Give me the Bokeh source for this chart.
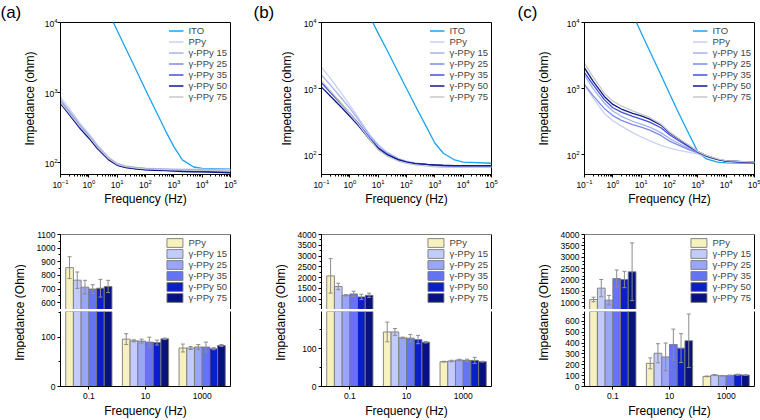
import math
from bokeh.plotting import figure
from bokeh.models import (Range1d, FactorRange, FixedTicker, SingleIntervalTicker, Label,
                          LinearAxis, ColumnDataSource, Span, Spacer)
from bokeh.transform import dodge
from bokeh.layouts import row, column
from bokeh.embed import file_html
from bokeh.resources import INLINE

FONT = "Liberation Sans"

# ---------------- data: impedance spectra (top row) ----------------
freq = [0.1, 0.2, 0.5, 1, 2, 5, 10, 20, 50, 100, 200, 500, 1000, 2000, 5000, 10000, 100000]

a_ito = [380000, 210000, 97000, 54000, 30000, 13900, 7700, 4300, 1990, 1100, 617, 290, 170, 110, 87, 83, 81]
a_ppy = [860, 600, 360, 260, 180, 120, 98, 90, 86, 84, 83, 82, 82, 81, 81, 81, 80]
a_g15 = [790, 555, 340, 248, 174, 117, 96, 89, 85, 83, 82, 81, 80, 80, 79, 79, 78]
a_g25 = [750, 525, 328, 240, 169, 115, 95, 88, 84, 82, 81, 80, 79, 79, 78, 78, 77]
a_g35 = [715, 500, 313, 230, 163, 112, 93, 86, 82, 80, 79, 78, 77, 76, 75, 75, 73]
a_g50 = [700, 490, 305, 224, 159, 110, 92, 85, 81, 79, 78, 77, 76, 75, 74, 74, 72]
a_g75 = [730, 515, 322, 238, 168, 115, 95, 88, 84, 82, 81, 80, 79, 79, 78, 78, 77]

b_ito = [330000, 185000, 86000, 48000, 27000, 12400, 6900, 3900, 1800, 1000, 560, 265, 150, 105, 83, 77, 74]
b_ppy = [2100, 1450, 850, 560, 360, 200, 140, 110, 88, 80, 75, 71, 68, 67, 66, 66, 66]
b_g15 = [1600, 1150, 720, 500, 340, 195, 140, 108, 87, 79, 74, 71, 68, 67, 66, 66, 66]
b_g25 = [1200, 880, 580, 420, 300, 180, 128, 103, 84, 77, 73, 71, 69, 68, 67, 67, 67]
b_g35 = [1250, 900, 590, 420, 295, 178, 127, 102, 84, 77, 73, 71, 69, 68, 67, 67, 67]
b_g50 = [1050, 780, 520, 380, 275, 170, 124, 100, 84, 77, 73, 71, 70, 69, 68, 68, 68]
b_g75 = [1300, 940, 600, 420, 290, 172, 118, 96, 80, 74, 70, 67, 65, 64, 64, 64, 64]

c_ito = [490000, 260000, 110000, 58000, 31000, 13300, 7000, 3700, 1600, 840, 445, 200, 110, 86, 77, 75, 74]
c_ppy = [1150, 720, 420, 325, 270, 215, 185, 162, 138, 125, 117, 108, 102, 92, 84, 80, 77]
c_g15 = [1600, 1000, 600, 457, 380, 320, 290, 260, 215, 175, 150, 122, 108, 95, 85, 80, 76]
c_g25 = [1150, 780, 500, 390, 330, 285, 260, 235, 195, 160, 140, 118, 106, 94, 84, 80, 76]
c_g35 = [1750, 1150, 680, 513, 440, 380, 345, 310, 255, 200, 165, 130, 110, 96, 85, 80, 76]
c_g50 = [2050, 1300, 760, 575, 490, 420, 385, 345, 280, 215, 175, 135, 111, 96, 85, 80, 76]
c_g75 = [2400, 1500, 850, 645, 545, 460, 410, 365, 290, 220, 178, 137, 112, 97, 86, 81, 77]

line_names = ["ITO", "PPy", "γ-PPy 15", "γ-PPy 25", "γ-PPy 35", "γ-PPy 50", "γ-PPy 75"]
line_colors = ["#1aa3ef", "#c9d0f5", "#a6b2f0", "#7b8be8", "#4152d9", "#0f1a8a", "#c8c8c8"]

x_major = [0.1, 1, 10, 100, 1000, 10000, 100000]
y_major = [100, 1000, 10000]

# ---------------- data: bar charts (bottom row) ----------------
freq_cats = ["0.1", "10", "1000"]
bar_names = ["PPy", "γ-PPy 15", "γ-PPy 25", "γ-PPy 35", "γ-PPy 50", "γ-PPy 75"]
bar_colors = ["#f6f1bf", "#c3cbfb", "#98a5f8", "#6474f5", "#0b1fc8", "#07127e"]

a_bar_ppy = [857, 96, 78];    a_err_ppy = [80, 11, 8]
a_bar_g15 = [765, 92.6, 78];  a_err_g15 = [60, 2, 3]
a_bar_g25 = [714, 92, 80];    a_err_g25 = [50, 4, 5]
a_bar_g35 = [700, 90, 80];    a_err_g35 = [32, 10, 10]
a_bar_g50 = [706, 89, 76.6];  a_err_g50 = [65, 5, 2]
a_bar_g75 = [719, 96.6, 83];  a_err_g75 = [45, 1.5, 2]

b_bar_ppy = [2080, 144, 65.5]; b_err_ppy = [800, 26, 1]
b_bar_g15 = [1590, 144, 67.3]; b_err_g15 = [150, 9, 2]
b_bar_g25 = [1180, 128.5, 70]; b_err_g25 = [30, 2, 2]
b_bar_g35 = [1240, 127.6, 69]; b_err_g35 = [130, 10, 3]
b_bar_g50 = [1105, 124, 69];   b_err_g50 = [120, 11, 8]
b_bar_g75 = [1180, 117, 65.5]; b_err_g75 = [100, 2, 1]

c_bar_ppy = [1140, 213, 93];  c_err_ppy = [100, 50, 3]
c_bar_g15 = [1640, 306, 105]; c_err_g15 = [380, 88, 5]
c_bar_g25 = [1110, 272, 99];  c_err_g25 = [210, 128, 3]
c_bar_g35 = [2060, 386, 102]; c_err_g35 = [380, 142, 3]
c_bar_g50 = [2020, 353, 108]; c_err_g50 = [360, 133, 5]
c_bar_g75 = [2360, 421, 105]; c_err_g75 = [1270, 246, 3]

TOP_H = 210
UP_H = 99
GAP = 2
LOW_H = 109
BW = 0.136


def style_axis(ax, size="8.5px", label_standoff=2, title_standoff=2):
    ax.major_label_text_font = FONT
    ax.major_label_text_font_size = size
    ax.major_label_text_color = "black"
    ax.axis_label_text_font = FONT
    ax.axis_label_text_font_size = "12px"
    ax.axis_label_text_font_style = "normal"
    ax.axis_label_text_color = "black"
    ax.major_tick_in = 0
    ax.major_tick_out = 3
    ax.minor_tick_in = 0
    ax.minor_tick_out = 2
    ax.major_label_standoff = label_standoff
    ax.axis_label_standoff = title_standoff
    ax.axis_line_color = "black"
    ax.major_tick_line_color = "black"
    ax.minor_tick_line_color = "black"


def top_panel(curves, ymin, width, left, right, letter, letter_dx, ylab_std, ytick_std):
    p = figure(width=width, height=TOP_H, x_axis_type="log", y_axis_type="log",
               x_range=Range1d(0.1, 1e5), y_range=Range1d(ymin, 1e4),
               output_backend="svg", toolbar_location=None,
               min_border_left=left, min_border_right=right,
               min_border_top=21, min_border_bottom=36)
    p.title.text = letter
    p.title.text_font = FONT
    p.title.text_font_size = "17px"
    p.title.text_font_style = "normal"
    p.title.text_color = "black"
    p.title.align = "left"
    p.title.offset = letter_dx
    p.title.standoff = 1
    p.outline_line_color = "black"
    p.outline_line_alpha = 1
    p.grid.visible = False
    for name, vals, col in zip(line_names, curves, line_colors):
        p.line(freq, vals, line_color=col, line_width=1.3, legend_label=name)
    x_minor = [m * d for d in x_major[:-1] for m in range(2, 10)]
    p.xaxis.ticker = FixedTicker(ticks=x_major, minor_ticks=x_minor)
    p.yaxis.ticker = FixedTicker(ticks=y_major)
    p.xaxis.axis_label = "Frequency (Hz)"
    p.yaxis.axis_label = "Impedance (ohm)"
    style_axis(p.xaxis[0], label_standoff=1, title_standoff=1)
    style_axis(p.yaxis[0], label_standoff=ytick_std, title_standoff=ylab_std)
    lg = p.legend[0]
    lg.location = "top_right"
    lg.label_text_font = FONT
    lg.label_text_font_size = "9.5px"
    lg.glyph_width = 15
    lg.glyph_height = 9
    lg.label_height = 9
    lg.spacing = 0
    lg.padding = 3
    lg.margin = 3
    lg.label_standoff = 5
    lg.border_line_color = None
    lg.background_fill_alpha = 0
    return p


def bar_block(vals, errs, up_rng, up_int, low_rng, low_int, minor, width, T, title_x, L, R):
    data = {"freq": freq_cats}
    for i, (v, e) in enumerate(zip(vals, errs)):
        data[f"v{i}"] = v
        data[f"lo{i}"] = [a - b for a, b in zip(v, e)]
        data[f"hi{i}"] = [a + b for a, b in zip(v, e)]
    src = ColumnDataSource(data)
    sub_w = width - T
    up = figure(width=sub_w, height=UP_H, x_range=FactorRange(*freq_cats), y_range=Range1d(*up_rng),
                x_axis_location=None, output_backend="svg", toolbar_location=None,
                min_border_left=L, min_border_right=R, min_border_top=24, min_border_bottom=0)
    lo = figure(width=sub_w, height=LOW_H, x_range=FactorRange(*freq_cats), y_range=Range1d(*low_rng),
                output_backend="svg", toolbar_location=None,
                min_border_left=L, min_border_right=R, min_border_top=0, min_border_bottom=33)
    for fig, is_up in ((up, True), (lo, False)):
        fig.outline_line_color = None
        fig.grid.visible = False
        for i, (name, col) in enumerate(zip(bar_names, bar_colors)):
            xs = dodge("freq", (i - 2.5) * BW, range=fig.x_range)
            kw = dict(legend_label=name) if is_up else {}
            fig.vbar(x=xs, top=f"v{i}", bottom=0, width=BW, source=src, fill_color=col,
                     line_color="#7a7a7a", line_width=0.9, **kw)
            fig.segment(x0=xs, y0=f"lo{i}", x1=xs, y1=f"hi{i}", source=src,
                        line_color="#8c8c8c", line_width=1)
            fig.scatter(x=xs, y=f"lo{i}", source=src, marker="dash", size=4,
                        line_color="#8c8c8c", line_width=1)
            fig.scatter(x=xs, y=f"hi{i}", source=src, marker="dash", size=4,
                        line_color="#8c8c8c", line_width=1)
        fig.add_layout(LinearAxis(ticker=FixedTicker(ticks=[]), axis_line_color="black",
                                  major_tick_line_color=None, minor_tick_line_color=None), "right")
        fig.yaxis[0].ticker = SingleIntervalTicker(interval=up_int if is_up else low_int,
                                                   num_minor_ticks=minor)
        style_axis(fig.yaxis[0])
    up.add_layout(Span(location=up_rng[1], dimension="width", line_color="black", line_width=1))
    style_axis(lo.xaxis[0], label_standoff=3, title_standoff=2)
    lo.xaxis.axis_label = "Frequency (Hz)"
    lg = up.legend[0]
    lg.location = "top_right"
    lg.label_text_font = FONT
    lg.label_text_font_size = "9.5px"
    lg.glyph_width = 20
    lg.glyph_height = 11
    lg.label_height = 11
    lg.spacing = 0
    lg.padding = 2
    lg.margin = 3
    lg.label_standoff = 4
    lg.border_line_color = None
    lg.background_fill_alpha = 0
    th = UP_H + GAP + LOW_H
    tf = figure(width=T, height=th, x_range=Range1d(0, 1), y_range=Range1d(0, 1),
                x_axis_location=None, y_axis_location=None, output_backend="svg",
                toolbar_location=None, min_border=0)
    tf.outline_line_color = None
    tf.grid.visible = False
    tf.add_layout(Label(x=title_x, y=108, x_units="screen", y_units="screen",
                        text="Impedance (Ohm)", angle=math.pi / 2, text_align="center",
                        text_baseline="middle", text_font=FONT, text_font_size="12px",
                        text_color="black"))
    return row(tf, column(up, Spacer(width=sub_w, height=GAP), lo))


top_a = top_panel([a_ito, a_ppy, a_g15, a_g25, a_g35, a_g50, a_g75], 68, 250, 60, 20, "(a)", -60, 5, 0)
top_b = top_panel([b_ito, b_ppy, b_g15, b_g25, b_g35, b_g50, b_g75], 50, 255, 71, 14, "(b)", -68, 7, 2)
top_c = top_panel([c_ito, c_ppy, c_g15, c_g25, c_g35, c_g50, c_g75], 50, 255, 79, 6, "(c)", -67, 13, 2)

bot_a = bar_block([a_bar_ppy, a_bar_g15, a_bar_g25, a_bar_g35, a_bar_g50, a_bar_g75],
                  [a_err_ppy, a_err_g15, a_err_g25, a_err_g35, a_err_g50, a_err_g75],
                  (550, 1100), 100, (0, 152), 100, 2, 250, 26, 19, 34, 20)
bot_b = bar_block([b_bar_ppy, b_bar_g15, b_bar_g25, b_bar_g35, b_bar_g50, b_bar_g75],
                  [b_err_ppy, b_err_g15, b_err_g25, b_err_g35, b_err_g50, b_err_g75],
                  (520, 4000), 500, (0, 198), 100, 2, 255, 38, 30, 33, 14)
bot_c = bar_block([c_bar_ppy, c_bar_g15, c_bar_g25, c_bar_g35, c_bar_g50, c_bar_g75],
                  [c_err_ppy, c_err_g15, c_err_g25, c_err_g35, c_err_g50, c_err_g75],
                  (700, 4000), 500, (0, 690), 100, 3, 255, 46, 38, 33, 6)

layout = row(column(top_a, bot_a), column(top_b, bot_b), column(top_c, bot_c))

open("out.html", "w").write(file_html(layout, INLINE))
